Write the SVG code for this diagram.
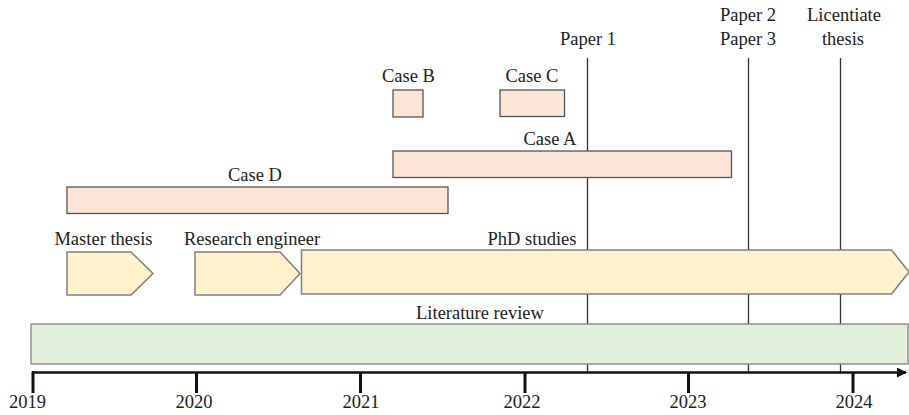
<svg xmlns="http://www.w3.org/2000/svg" width="909" height="415" viewBox="0 0 909 415" font-family="Liberation Serif, DejaVu Serif, serif">
<style>
text{font-size:18.5px;fill:#222;text-anchor:middle}
.case{fill:#fbe5d6;stroke:#555;stroke-width:1.3}
.arr{fill:#fff2cc;stroke:#808080;stroke-width:1.5}
.lit{fill:#e2efda;stroke:#808080;stroke-width:1.3}
.ms{stroke:#333;stroke-width:1.3;fill:none}
.tick{stroke:#111;stroke-width:3}
</style>
<defs>
<marker id="ah" viewBox="0 0 10 10" refX="9" refY="5" markerWidth="4" markerHeight="4" orient="auto" markerUnits="strokeWidth">
<path d="M0,0 L10,5 L0,10 z" fill="#111"/>
</marker>
</defs>
<g id="milestones">
<line class="ms" x1="587.5" y1="58" x2="587.5" y2="372"/>
<line class="ms" x1="748.5" y1="58" x2="748.5" y2="372"/>
<line class="ms" x1="840.5" y1="58" x2="840.5" y2="372" stroke="#555"/>
<text x="588" y="45">Paper 1</text>
<text x="748" y="21">Paper 2</text>
<text x="748" y="45">Paper 3</text>
<text x="844" y="21">Licentiate</text>
<text x="843" y="45">thesis</text>
</g>
<g id="caseB"><rect class="case" x="393" y="90" width="30" height="27"/><text x="408.5" y="82">Case B</text></g>
<g id="caseC"><rect class="case" x="500" y="90" width="64.5" height="26.5"/><text x="532" y="82">Case C</text></g>
<g id="caseA"><rect class="case" x="393" y="151" width="338.5" height="26.5"/><text x="550" y="145">Case A</text></g>
<g id="caseD"><rect class="case" x="67" y="187" width="381" height="26.5"/><text x="255" y="181">Case D</text></g>
<g id="master"><path class="arr" d="M67,252 L131,252 L153,273.5 L131,295 L67,295 z"/><text x="103.5" y="245">Master thesis</text></g>
<g id="research"><path class="arr" d="M195,252 L280,252 L300,273.5 L280,295 L195,295 z"/><text x="252" y="245">Research engineer</text></g>
<g id="phd"><path class="arr" d="M301.5,250 L891.5,250 L909,272 L891.5,294 L301.5,294 z"/><text x="532" y="245">PhD studies</text></g>
<g id="literature"><rect class="lit" x="31" y="324" width="877" height="40"/><text x="480" y="319">Literature review</text></g>
<g id="axis">
<line x1="32" y1="372.5" x2="906" y2="372.5" stroke="#111" stroke-width="2.5" marker-end="url(#ah)"/>
<line class="tick" x1="33" y1="371.5" x2="33" y2="393"/>
<line class="tick" x1="196.5" y1="372" x2="196.5" y2="393"/>
<line class="tick" x1="360.5" y1="372" x2="360.5" y2="393"/>
<line class="tick" x1="525" y1="372" x2="525" y2="393"/>
<line class="tick" x1="688.5" y1="372" x2="688.5" y2="393"/>
<line class="tick" x1="853" y1="372" x2="853" y2="393"/>
<text x="27.5" y="408">2019</text>
<text x="194" y="408">2020</text>
<text x="361" y="408">2021</text>
<text x="522" y="408">2022</text>
<text x="688" y="408">2023</text>
<text x="854" y="408">2024</text>
</g>
</svg>
